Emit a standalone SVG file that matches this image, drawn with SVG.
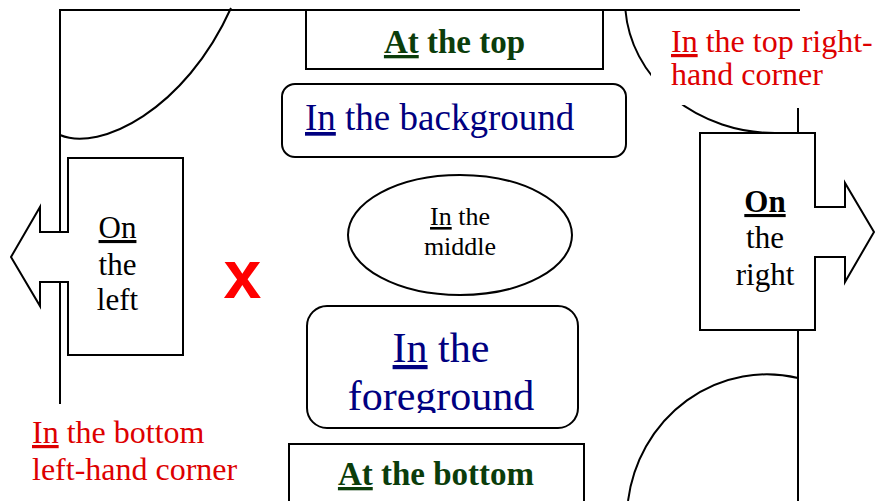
<svg xmlns="http://www.w3.org/2000/svg" width="877" height="501" viewBox="0 0 877 501">
<defs>
<style>
.ln{fill:none;stroke:#000;stroke-width:2}
.bx{fill:#fff;stroke:#000;stroke-width:2}
.s{font-family:"Liberation Serif","Times New Roman",serif}
.g{fill:#0b3d0b;font-weight:bold;font-size:33px}
.n{fill:#000080}
.r{fill:#dd0000;font-size:32px}
.k{fill:#000;font-size:31px}
.u{text-decoration:underline}
</style>
<clipPath id="fgclip"><rect x="300" y="300" width="290" height="113"/></clipPath>
</defs>
<rect width="877" height="501" fill="#fff"/>
<g id="frame">
<path class="ln" d="M60,10 H800"/>
<path class="ln" d="M60,9 V404"/>
<path class="ln" d="M798,108 V133 M798,330 V501"/>
<path class="ln" d="M60,135 C100,152 185,110 231,8"/>
<path class="ln" d="M625.4,10 A150,133 0 0,0 775,133"/>
<path class="ln" d="M628,501 A140,146 0 0,1 798,378"/>
</g>
<g id="top-right">
<rect x="651" y="13" width="226" height="92" fill="#fff"/>
<text class="s r"><tspan x="671" y="52"><tspan class="u">In</tspan> the top right-</tspan><tspan x="671" y="85">hand corner</tspan></text>
</g>
<g id="at-top">
<rect class="bx" x="306" y="10" width="297" height="59"/>
<text class="s g" x="454.5" y="53" text-anchor="middle"><tspan class="u">At</tspan> the top</text>
</g>
<g id="background">
<rect class="bx" x="282" y="84" width="344" height="73" rx="13"/>
<text class="s n" x="305" y="130" font-size="37"><tspan class="u">In</tspan> the background</text>
</g>
<g id="left">
<polygon class="bx" points="68,158 183,158 183,355 68,355 68,282 40,282 40,306 11,257 40,207 40,232 68,232"/>
<text class="s k" text-anchor="middle"><tspan x="117.5" y="238" class="u">On</tspan><tspan x="117.5" y="275">the</tspan><tspan x="117.5" y="310">left</tspan></text>
</g>
<g id="cross">
<text x="242.5" y="298" text-anchor="middle" font-family="Liberation Sans,Arial,sans-serif" font-weight="bold" font-size="68" fill="#ff0000">x</text>
</g>
<g id="middle">
<ellipse class="bx" cx="460" cy="235" rx="112" ry="60"/>
<text class="s" font-size="26" fill="#000" text-anchor="middle"><tspan x="460" y="225"><tspan class="u">In</tspan> the</tspan><tspan x="460" y="255">middle</tspan></text>
</g>
<g id="right">
<polygon class="bx" points="700,133 815,133 815,207 845,207 845,183 874,232 845,282 845,257 815,257 815,330 700,330"/>
<text class="s k" text-anchor="middle"><tspan x="765" y="212" class="u" font-weight="bold">On</tspan><tspan x="765" y="248">the</tspan><tspan x="765" y="285">right</tspan></text>
</g>
<g id="foreground">
<rect class="bx" x="307" y="306" width="271" height="122" rx="20"/>
<text class="s n" font-size="42" text-anchor="middle" clip-path="url(#fgclip)"><tspan x="441" y="362"><tspan class="u">In</tspan> the</tspan><tspan x="441" y="410">foreground</tspan></text>
</g>
<g id="bottom-left">
<text class="s r"><tspan x="32" y="443"><tspan class="u">In</tspan> the bottom</tspan><tspan x="32" y="480">left-hand corner</tspan></text>
</g>
<g id="at-bottom">
<rect class="bx" x="289" y="444" width="295" height="62"/>
<text class="s g" x="436" y="485" text-anchor="middle"><tspan class="u">At</tspan> the bottom</text>
</g>
</svg>
